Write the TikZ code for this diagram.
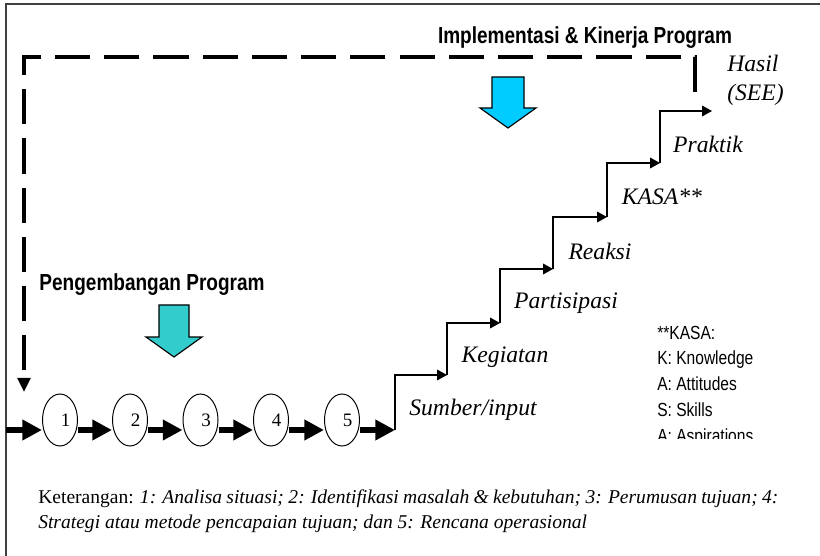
\documentclass[tikz,border=0pt]{standalone}
\usepackage{fontspec}
\setmainfont{Liberation Serif}
\newfontfamily\narrowsans{Liberation Sans}[FakeStretch=0.82]
\usetikzlibrary{arrows.meta,shapes.geometric}

\definecolor{implblue}{HTML}{00CCFF}
\definecolor{devteal}{HTML}{33CCCC}

\tikzset{
  stage/.style={draw, ellipse, line width=0.7pt, minimum width=0.875cm, minimum height=1.3cm, inner sep=0pt, font=\fontsize{13.5}{16}\selectfont},
  flow/.style={line width=4pt, -{Triangle[length=14pt,width=14pt]}},
  stair/.style={line width=0.9pt, -{Triangle[length=7pt,width=7.5pt]}},
  steplabel/.style={font=\fontsize{16.8}{20}\selectfont\itshape},
  heading/.style={font=\narrowsans\bfseries\fontsize{16.5}{19}\selectfont},
  kasaline/.style={anchor=base west, inner sep=0pt, font=\narrowsans\fontsize{13.5}{16}\selectfont},
  feedback/.style={line width=2.6pt, line join=miter, dash pattern=on 25pt off 10pt, -{Triangle[length=10pt,width=9pt]}},
  bigarrow/.style={draw=black, line width=0.8pt, line join=miter}
}

\begin{document}
\begin{tikzpicture}[x=0.025cm, y=-0.025cm]
\useasboundingbox (0,0) rectangle (820,556);
% frame
\draw[line width=1.4pt, black!75] (6,556) -- (6,4) -- (820,4);

% feedback loop
\coordinate (fbstart) at (695,92);
\coordinate (fbtop) at (695,57);
\coordinate (fbcorner) at (24,57);
\coordinate (fbend) at (24,392);
\draw[feedback] (fbstart) -- (fbtop) -- (fbcorner) -- (fbend);

% headings and block arrows
\node[heading] (impl) at (585,38) {Implementasi \& Kinerja Program};
\node[heading] (dev) at (152,285) {Pengembangan Program};
\filldraw[bigarrow, fill=implblue] (492,77) -- (524,77) -- (524,108) -- (536,108)
  -- (508,128) -- (480,108) -- (492,108) -- cycle;
\filldraw[bigarrow, fill=devteal] (159,305) -- (189,305) -- (189,337) -- (202,337)
  -- (174,357) -- (146,337) -- (159,337) -- cycle;

% program development stages
\coordinate (lv) at (0,430);
\coordinate (in) at (6,430);
\node[stage] (e1) at (60,420) {\hspace*{8pt}1};
\node[stage] (e2) at (130,420) {\hspace*{8pt}2};
\node[stage] (e3) at (200.5,420) {\hspace*{8pt}3};
\node[stage] (e4) at (271,420) {\hspace*{8pt}4};
\node[stage] (e5) at (342,420) {\hspace*{8pt}5};
\coordinate (s0) at (395,430);
\draw[flow] (in) -- (e1.west |- lv);
\draw[flow] (e1.east |- lv) -- (e2.west |- lv);
\draw[flow] (e2.east |- lv) -- (e3.west |- lv);
\draw[flow] (e3.east |- lv) -- (e4.west |- lv);
\draw[flow] (e4.east |- lv) -- (e5.west |- lv);
\draw[flow] (e5.east |- lv) -- (s0);

% staircase
\coordinate (s1) at (447,375);
\coordinate (s2) at (500,323);
\coordinate (s3) at (553,269);
\coordinate (s4) at (607,217);
\coordinate (s5) at (660,163);
\coordinate (s6) at (712,111);
\foreach \a/\b in {s0/s1,s1/s2,s2/s3,s3/s4,s4/s5,s5/s6}
  \draw[stair] (\a) |- (\b);

\node[steplabel] (src) at (473,410) {Sumber/input};
\node[steplabel] (keg) at (505,357) {Kegiatan};
\node[steplabel] (par) at (566,303) {Partisipasi};
\node[steplabel] (rea) at (600,251) {Reaksi};
\node[steplabel] (kasa) at (662,197) {KASA**};
\node[steplabel] (prak) at (708,144) {Praktik};
\node[steplabel, anchor=west, inner sep=0pt] (has) at (727,63) {Hasil};
\node[steplabel, anchor=west, inner sep=0pt] (see) at (727,95) {(SEE)};

% KASA legend
\begin{scope}
\clip (640,318) rectangle (800,438);
\node[kasaline] (k0) at (657,339.5) {**KASA:};
\node[kasaline] (k1) at (657,364.5) {K: Knowledge};
\node[kasaline] (k2) at (657,390.5) {A: Attitudes};
\node[kasaline] (k3) at (657,416.5) {S: Skills};
\node[kasaline] (k4) at (657,442) {A: Aspirations};
\end{scope}

% note
\node[anchor=north west, inner sep=0pt, text width=18.5cm, align=justify,
  font=\fontsize{13.9}{17.8}\selectfont] (note) at (38,489)
  {Keterangan: \textit{1: Analisa situasi; 2: Identifikasi masalah \& kebutuhan; 3: Perumusan tujuan; 4:}\linebreak
   \textit{Strategi atau metode pencapaian tujuan; dan 5: Rencana operasional}};
\end{tikzpicture}
\end{document}
